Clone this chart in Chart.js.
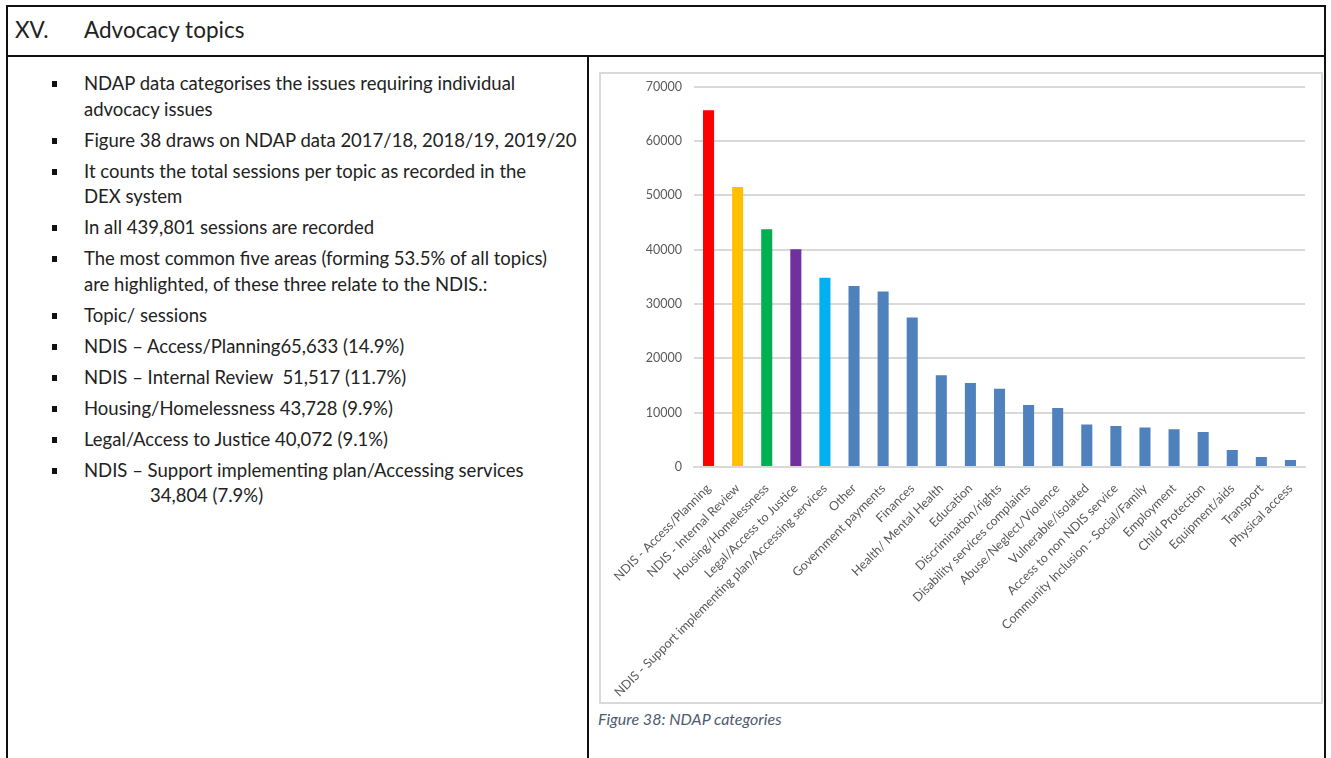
<!DOCTYPE html>
<html>
<head>
<meta charset="utf-8">
<script src="https://cdn.jsdelivr.net/npm/chart.js@4"></script>
<style>
  body { margin: 0; background: #fff; font-family: Lato, "Open Sans", sans-serif; color: #222; }
  #page { position: absolute; left: 0; top: 0; width: 1331px; height: 758px; overflow: hidden; }
  #frame { position: absolute; left: 6px; top: 5px; width: 1320px; height: 800px; border: 2px solid #111; box-sizing: border-box; }
  #head { position: absolute; left: 6px; top: 5px; width: 1320px; height: 52px; border-bottom: 2px solid #111; box-sizing: border-box; }
  #head .num { position: absolute; left: 9px; top: 11px; font-size: 22.5px; }
  #head .ttl { position: absolute; left: 78px; top: 11px; font-size: 22.5px; }
  #divider { position: absolute; left: 587px; top: 56px; width: 2px; height: 710px; background: #111; }
  ul { position: absolute; left: 0; top: 71px; margin: 0; padding: 0; list-style: none; font-size: 18.5px; line-height: 25.5px; }
  li { position: relative; padding-left: 84px; margin-bottom: 5.5px; white-space: nowrap; }
  li::before { content: ""; position: absolute; left: 52px; top: 10px; width: 5px; height: 6px; background: #111; }
  .indent { padding-left: 66px; }
  #chartbox { position: absolute; left: 599px; top: 72px; width: 724px; height: 632px; border: 2px solid #d9d9d9; box-sizing: border-box; }
  #wrap { position: absolute; left: 0; top: -7px; width: 720px; height: 635px; }
  #caption { position: absolute; left: 598px; top: 709px; font-style: italic; font-size: 16px; color: #4e5b6e; }
</style>
</head>
<body>
<div id="page">
  <div id="frame"></div>
  <div id="head"><span class="num">XV.</span><span class="ttl">Advocacy topics</span></div>
  <div id="divider"></div>
  <ul>
    <li>NDAP data categorises the issues requiring individual<br>advocacy issues</li>
    <li>Figure 38 draws on NDAP data 2017/18, 2018/19, 2019/20</li>
    <li>It counts the total sessions per topic as recorded in the<br>DEX system</li>
    <li>In all 439,801 sessions are recorded</li>
    <li>The most common five areas (forming 53.5% of all topics)<br>are highlighted, of these three relate to the NDIS.:</li>
    <li>Topic/ sessions</li>
    <li>NDIS – Access/Planning65,633 (14.9%)</li>
    <li>NDIS – Internal Review&nbsp; 51,517 (11.7%)</li>
    <li>Housing/Homelessness 43,728 (9.9%)</li>
    <li>Legal/Access to Justice 40,072 (9.1%)</li>
    <li>NDIS – Support implementing plan/Accessing services<br><span class="indent"></span>34,804 (7.9%)</li>
  </ul>
  <div id="chartbox"><div id="wrap"><canvas id="topicChart"></canvas></div></div>
  <div id="caption">Figure 38: NDAP categories</div>
</div>
<script>
// topics in the order shown on the chart
const topics = [
  'NDIS - Access/Planning', 'NDIS - Internal Review', 'Housing/Homelessness', 'Legal/Access to Justice',
  'NDIS - Support implementing plan/Accessing services', 'Other', 'Government payments', 'Finances',
  'Health/ Mental Health', 'Education', 'Discrimination/rights', 'Disability services complaints',
  'Abuse/Neglect/Violence', 'Vulnerable/isolated', 'Access to non NDIS service',
  'Community Inclusion - Social/Family', 'Employment', 'Child Protection', 'Equipment/aids',
  'Transport', 'Physical access'
];
// sessions per topic (first five from the text, rest)
const sessions = [
  65633, 51517, 43728, 40072, 34804, 33300, 32300, 27500, 16900, 15450, 14400, 11400,
  10850, 7800, 7550, 7250, 6950, 6450, 3150, 1850, 1300
];
const highlight = ['#ff0000', '#ffc000', '#00b050', '#7030a0', '#00b0f0'];
const otherColor = '#4f81bd';
const yTicks = [0, 10000, 20000, 30000, 40000, 50000, 60000, 70000];

const barColors = sessions.map((v, i) => highlight[i] || otherColor);

const ctx = document.getElementById('topicChart').getContext('2d');
new Chart(ctx, {
  type: 'bar',
  data: {
    labels: topics,
    datasets: [{
      data: sessions,
      backgroundColor: barColors,
      barPercentage: 0.38,
      categoryPercentage: 1
    }]
  },
  options: {
    responsive: true,
    maintainAspectRatio: false,
    animation: false,
    layout: { padding: { top: 4, right: 16, left: 0, bottom: 0 } },
    plugins: { legend: { display: false }, tooltip: { enabled: false } },
    scales: {
      x: {
        grid: { display: false },
        border: { display: true, color: '#d9d9d9', width: 2 },
        ticks: {
          autoSkip: false, maxRotation: 45, minRotation: 45, padding: 6,
          color: '#595959', font: { family: 'Lato', size: 12.5 }
        },
        afterFit: s => { s.height = 235; }
      },
      y: {
        min: 0, max: 70000,
        afterBuildTicks: s => { s.ticks = yTicks.map(v => ({ value: v })); },
        grid: { color: '#d9d9d9', lineWidth: 2, drawTicks: false },
        border: { display: false },
        ticks: {
          padding: 12, color: '#595959', font: { family: 'Lato', size: 12.5 },
          callback: v => String(v)
        },
        afterFit: s => { s.width = 93; }
      }
    }
  }
});
</script>
</body>
</html>
